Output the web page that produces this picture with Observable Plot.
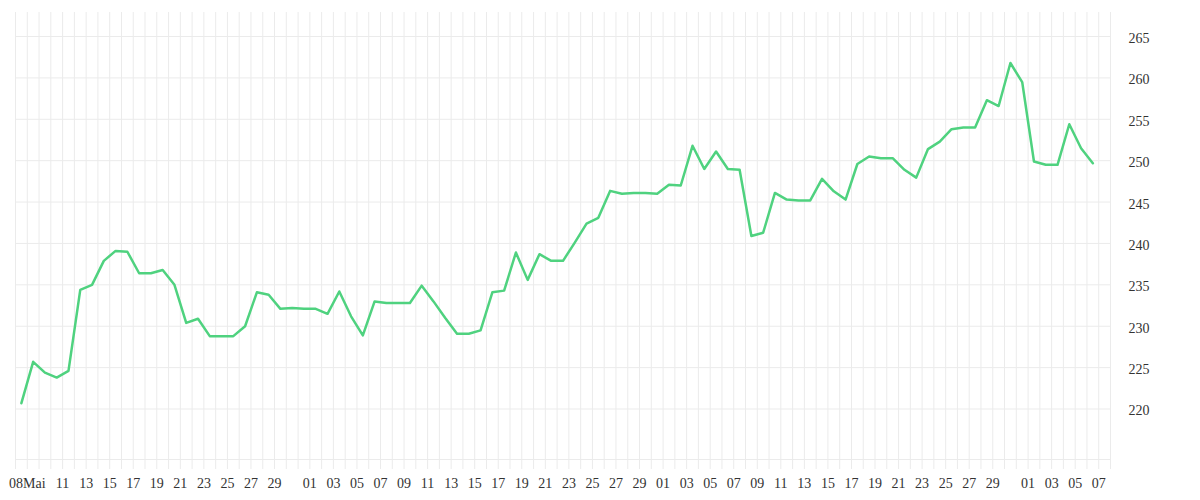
<!DOCTYPE html>
<html>
<head>
<meta charset="utf-8">
<script src="https://cdn.jsdelivr.net/npm/d3@7"></script>
<script src="https://cdn.jsdelivr.net/npm/@observablehq/plot@0.6"></script>
<style>
  html, body { margin: 0; padding: 0; background: #fff; }
</style>
</head>
<body>
<div id="chart"></div>
<script>
// Daily values, one per day starting 7 May
const firstDay = "2025-05-07";
const values = [
  220.7, 225.7, 224.4, 223.8, 224.6, 234.4, 235.0, 237.9, 239.1, 239.0,
  236.4, 236.4, 236.8, 235.0, 230.4, 230.9, 228.8, 228.8, 228.8, 230.0,
  234.1, 233.8, 232.1, 232.2, 232.1, 232.1, 231.5, 234.2, 231.2, 228.9,
  233.0, 232.8, 232.8, 232.8, 234.9, 233.0, 231.0, 229.1, 229.1, 229.5,
  234.1, 234.3, 238.9, 235.6, 238.7, 237.9, 237.9, 240.1, 242.4, 243.1,
  246.35, 246.0, 246.1, 246.1, 246.0, 247.1, 247.0, 251.8, 249.0, 251.1,
  249.0, 248.9, 240.9, 241.3, 246.1, 245.3, 245.2, 245.2, 247.8, 246.3,
  245.3, 249.6, 250.5, 250.3, 250.3, 248.9, 247.95, 251.4, 252.3, 253.8,
  254.0, 254.0, 257.3, 256.6, 261.8, 259.5, 249.9, 249.5, 249.5, 254.4,
  251.5, 249.7
];
const yTicks = [220, 225, 230, 235, 240, 245, 250, 255, 260, 265];
const yDomain = [213.9, 267.9];
const xDomain = ["2025-05-07", "2025-08-08"];
const xTickDates = [
  "2025-05-08", "2025-05-11", "2025-05-13", "2025-05-15", "2025-05-17", "2025-05-19",
  "2025-05-21", "2025-05-23", "2025-05-25", "2025-05-27", "2025-05-29",
  "2025-06-01", "2025-06-03", "2025-06-05", "2025-06-07", "2025-06-09", "2025-06-11",
  "2025-06-13", "2025-06-15", "2025-06-17", "2025-06-19", "2025-06-21", "2025-06-23",
  "2025-06-25", "2025-06-27", "2025-06-29",
  "2025-07-01", "2025-07-03", "2025-07-05", "2025-07-07", "2025-07-09", "2025-07-11",
  "2025-07-13", "2025-07-15", "2025-07-17", "2025-07-19", "2025-07-21", "2025-07-23",
  "2025-07-25", "2025-07-27", "2025-07-29",
  "2025-08-01", "2025-08-03", "2025-08-05", "2025-08-07"
];
const xTickLabels = [
  "08Mai", "11", "13", "15", "17", "19", "21", "23", "25", "27", "29",
  "01", "03", "05", "07", "09", "11", "13", "15", "17", "19", "21", "23", "25", "27", "29",
  "01", "03", "05", "07", "09", "11", "13", "15", "17", "19", "21", "23", "25", "27", "29",
  "01", "03", "05", "07"
];

const DAY = 86400000;
const start = new Date(firstDay + "T00:00:00Z");
const data = values.map((v, i) => ({ date: new Date(+start + i * DAY + DAY / 2), value: v }));
const dom = xDomain.map(d => new Date(d + "T00:00:00Z"));
const allDays = d3.utcDay.range(dom[0], new Date(+dom[1] + 1));
const tickDates = xTickDates.map(d => new Date(d + "T00:00:00Z"));
const labelMap = new Map(tickDates.map((d, i) => [+d, xTickLabels[i]]));

const gridColor = "#ebebeb";

const chart = Plot.plot({
  width: 1200,
  height: 500,
  marginLeft: 15,
  marginRight: 90,
  marginTop: 12,
  marginBottom: 41,
  style: { fontFamily: "'Liberation Serif', serif", fontSize: "14px", color: "#333", background: "#fff" },
  x: { type: "utc", domain: dom },
  y: { domain: yDomain },
  marks: [
    Plot.gridX(allDays, { stroke: gridColor, strokeOpacity: 1, strokeWidth: 1 }),
    Plot.gridY(yTicks, { stroke: gridColor, strokeOpacity: 1, strokeWidth: 1 }),
    Plot.ruleY([yDomain[0]], { stroke: gridColor, strokeWidth: 1 }),
    Plot.axisX(allDays, { tickSize: 10, stroke: gridColor, strokeOpacity: 1, tickFormat: () => "", label: null }),
    Plot.axisX(tickDates, { tickSize: 0, tickPadding: 19, tickFormat: d => labelMap.get(+d), label: null, fill: "#333" }),
    Plot.axisY(yTicks, { anchor: "right", tickSize: 0, tickPadding: 18, dy: 2, label: null, fill: "#333" }),
    Plot.line(data, { x: "date", y: "value", stroke: "#4fd27f", strokeWidth: 2.5, curve: "linear" })
  ]
});
document.getElementById("chart").appendChild(chart);
</script>
</body>
</html>
